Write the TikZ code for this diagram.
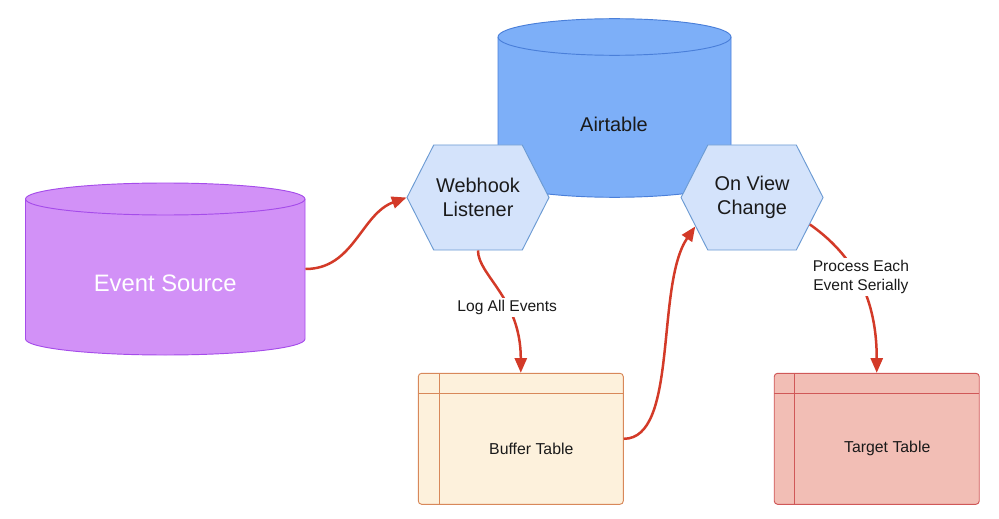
\documentclass[tikz,border=0pt]{standalone}
\usepackage{fontspec}
\setmainfont{Liberation Sans}
\usetikzlibrary{arrows.meta,positioning,calc,shapes.symbols}
\definecolor{ink}{HTML}{1A1A1A}
\definecolor{src}{HTML}{D291F7}
\definecolor{srcline}{HTML}{A54CEA}
\definecolor{air}{HTML}{7DAFF8}
\definecolor{airline}{HTML}{4A7FD9}
\definecolor{hex}{HTML}{D4E3FB}
\definecolor{hexline}{HTML}{6C9BD3}
\definecolor{buffer}{HTML}{FDF1DC}
\definecolor{bufferline}{HTML}{D8885A}
\definecolor{target}{HTML}{F2BEB5}
\definecolor{targetline}{HTML}{D05858}
\definecolor{flow}{HTML}{D33A28}
\tikzset{
  >={Triangle[length=4.4mm,width=3.6mm]},
  every node/.style={text=ink},
  hexbox/.style={signal,signal to=west and east,signal pointer angle=126,draw=hexline,fill=hex,line width=0.8pt,
    minimum width=42.6mm,minimum height=31.5mm,inner sep=0pt,align=center,font=\fontsize{17}{20.5}\selectfont},
  tablebox/.style={draw=#1line,fill=#1,line width=0.8pt,rounded corners=1mm,minimum width=61.5mm,minimum height=39.3mm,
    path picture={
      \draw[#1line,line width=0.8pt] ([yshift=-6mm]path picture bounding box.north west) -- ([yshift=-6mm]path picture bounding box.north east);
      \draw[#1line,line width=0.8pt] ([xshift=6.2mm]path picture bounding box.north west) -- ([xshift=6.2mm]path picture bounding box.south west);
    }},
  tabletext/.style={font=\fontsize{13.5}{16}\selectfont},
  cylline/.style={line width=0.8pt},
  flowarr/.style={->,line width=0.75mm,draw=flow},
  caption/.style={fill=white,inner sep=2pt,align=center,font=\fontsize{13.3}{16.5}\selectfont},
}
\begin{document}
\begin{tikzpicture}[x=0.3mm,y=0.3mm]
\useasboundingbox (0,0) rectangle (999,-519);

% cylinders
\path[cylline,draw=airline,fill=air] (498,-37) -- (498,-179) arc[start angle=180,end angle=360,x radius=116.5,y radius=18.3]
  -- (731,-37) arc[start angle=0,end angle=180,x radius=116.5,y radius=18.3] -- cycle;
\draw[cylline,airline] (498,-37) arc[start angle=180,end angle=360,x radius=116.5,y radius=18.3];
\node[font=\fontsize{17}{20}\selectfont] (airtable) at (614,-124) {Airtable};

\path[cylline,draw=srcline,fill=src] (25.5,-199) -- (25.5,-339) arc[start angle=180,end angle=360,x radius=139.75,y radius=16]
  -- (305,-199) arc[start angle=0,end angle=180,x radius=139.75,y radius=16] -- cycle;
\draw[cylline,srcline] (25.5,-199) arc[start angle=180,end angle=360,x radius=139.75,y radius=16];
\node[minimum width=84mm,minimum height=42mm] (source) at (165.25,-269) {};
\node[text=white,font=\fontsize{20.3}{24}\selectfont] (sourcetext) at ($(source)+(0,-14)$) {Event Source};

% hexagons
\node[hexbox] (hook) at (478,-197.5) {Webhook\\Listener};
\node[hexbox,right=39.3mm of hook] (view) {On View\\Change};

% tables
\node[tablebox=buffer] (buffer) at (520.8,-438.8) {};
\node[tabletext] (buffertext) at ($(buffer)+(10.5,-9.7)$) {Buffer Table};
\node[tablebox=target,right=45mm of buffer] (target) {};
\node[tabletext] (targettext) at ($(target)+(10.5,-9.7)$) {Target Table};

\draw[flowarr] (source.east) to[out=0,in=200] (hook.west);
\draw[flowarr] (hook.south) .. controls +(0,-25) and +(0,75) .. node[caption,pos=0.56,xshift=1.2mm,yshift=-2.4mm]{Log All Events} (buffer.north);
\draw[flowarr] (buffer.east) .. controls +(55,0) and +(-40,-58) .. (view.207);
\draw[flowarr] (view.-25) to[out=-35,in=90] node[caption,pos=0.4,xshift=1.5mm,yshift=-0.9mm]{Process Each\\Event Serially} (target.north);

\end{tikzpicture}
\end{document}
